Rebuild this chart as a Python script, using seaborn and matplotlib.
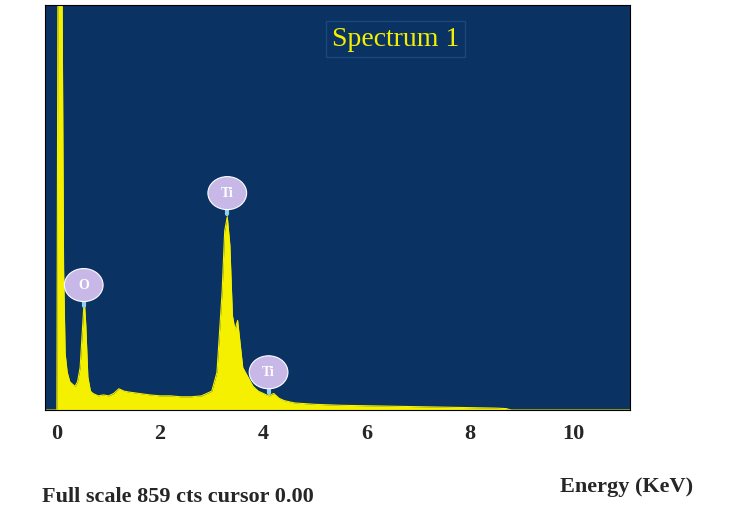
import matplotlib
matplotlib.use("Agg")
import matplotlib.pyplot as plt
import seaborn as sns
import pandas as pd
from matplotlib.patches import Ellipse

energy = [-0.23, 0.0, 0.02, 0.05, 0.08, 0.1, 0.13, 0.16, 0.2, 0.25, 0.3, 0.35, 0.4, 0.45, 0.5, 0.53, 0.56, 0.6, 0.65,
          0.7, 0.8, 0.9, 1.0, 1.1, 1.2, 1.3, 1.4, 1.6, 1.8, 2.0, 2.2, 2.4, 2.6, 2.8, 3.0, 3.1, 3.2, 3.25, 3.3,
          3.35, 3.4, 3.45, 3.5, 3.55, 3.6, 3.7, 3.8, 3.9, 4.0, 4.1, 4.2, 4.3, 4.4, 4.6, 5.0, 5.5, 6.0, 6.5,
          7.0, 7.5, 8.0, 8.5, 8.7, 8.8, 11.1]
counts = [0, 0, 900, 900, 900, 900, 300, 120, 80, 60, 55, 50, 60, 90, 180, 235, 180, 70, 40,
          35, 30, 32, 30, 35, 45, 40, 38, 35, 32, 30, 30, 28, 28, 30, 40, 80, 250, 380, 410,
          350, 200, 170, 190, 140, 90, 70, 50, 40, 35, 30, 35, 25, 20, 15, 12, 10, 9, 8,
          7, 6, 5, 4, 3, 0, 0]

df = pd.DataFrame({"energy": energy, "counts": counts})
sns.set_style("white")
fig = plt.figure(figsize=(7.52, 5.13), dpi=100)
ax = fig.add_axes([45/752, 1-410/513, 585/752, 405/513])
ax.set_facecolor("#0a3262")
ax.fill_between(df["energy"], 0, df["counts"], color="#f5f000", lw=0)
sns.lineplot(data=df, x="energy", y="counts", ax=ax, color="#f5f000", lw=0.8)
ax.set_xlim(-0.23, 11.1)
ax.set_ylim(0, 859)
ax.set_xticks([0, 2, 4, 6, 8, 10])
ax.set_xticklabels(["0", "2", "4", "6", "8", "10"], fontsize=16, fontweight="bold", family="Liberation Serif")
ax.set_yticks([])
ax.set_xlabel(""); ax.set_ylabel("")
ax.tick_params(axis="x", length=4, direction="out", pad=6)
for s in ax.spines.values():
    s.set_color("black")

for lab, x, y in [("O", 0.52, 265), ("Ti", 3.3, 460), ("Ti", 4.1, 80)]:
    ax.plot([x, x], [y - 45, y - 25], color="#8fd0f0", lw=3)
    ax.add_patch(Ellipse((x, y), 0.75, 70, color="#c8b8e8", ec="white", lw=0.8, zorder=5))
    ax.text(x, y, lab, ha="center", va="center", fontsize=10, color="white", fontweight="bold",
            family="Liberation Serif", zorder=6)

ax.text(0.49, 0.9, "Spectrum 1", transform=ax.transAxes, color="#f5f000", fontsize=20,
        family="Liberation Serif",
        bbox=dict(facecolor="none", edgecolor="#1a4a80", pad=4))
fig.text(42/752, 1-497/513, "Full scale 859 cts cursor 0.00", fontsize=16, fontweight="bold", family="Liberation Serif", va="center")
fig.text(560/752, 1-487/513, "Energy (KeV)", fontsize=16, fontweight="bold", family="Liberation Serif", va="center")
fig.savefig("out.png", dpi=100)
